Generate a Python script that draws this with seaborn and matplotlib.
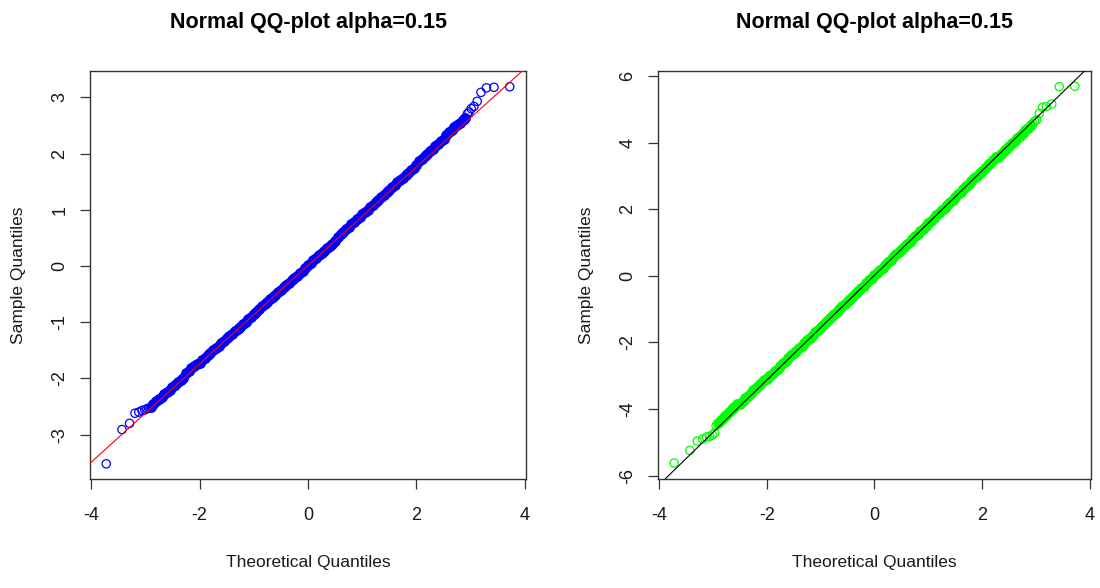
import matplotlib
matplotlib.use("Agg")
import matplotlib.pyplot as plt
import seaborn as sns

# ---------------- data ----------------
title_text = "Normal QQ-plot alpha=0.15"
x_label = "Theoretical Quantiles"
y_label = "Sample Quantiles"

# theoretical quantiles of the sparse tail points
theo_low = [-3.72, -3.43, -3.29, -3.19, -3.12, -3.06, -3.01, -2.97, -2.94]
theo_high = [2.94, 2.97, 3.01, 3.06, 3.12, 3.19, 3.29, 3.43, 3.72]

# theoretical quantiles of the dense middle band (read every 0.05)
theo_mid = [-2.90, -2.85, -2.80, -2.75, -2.70, -2.65, -2.60, -2.55, -2.50, -2.45,
            -2.40, -2.35, -2.30, -2.25, -2.20, -2.15, -2.10, -2.05, -2.00, -1.95,
            -1.90, -1.85, -1.80, -1.75, -1.70, -1.65, -1.60, -1.55, -1.50, -1.45,
            -1.40, -1.35, -1.30, -1.25, -1.20, -1.15, -1.10, -1.05, -1.00, -0.95,
            -0.90, -0.85, -0.80, -0.75, -0.70, -0.65, -0.60, -0.55, -0.50, -0.45,
            -0.40, -0.35, -0.30, -0.25, -0.20, -0.15, -0.10, -0.05, 0.00, 0.05,
            0.10, 0.15, 0.20, 0.25, 0.30, 0.35, 0.40, 0.45, 0.50, 0.55,
            0.60, 0.65, 0.70, 0.75, 0.80, 0.85, 0.90, 0.95, 1.00, 1.05,
            1.10, 1.15, 1.20, 1.25, 1.30, 1.35, 1.40, 1.45, 1.50, 1.55,
            1.60, 1.65, 1.70, 1.75, 1.80, 1.85, 1.90, 1.95, 2.00, 2.05,
            2.10, 2.15, 2.20, 2.25, 2.30, 2.35, 2.40, 2.45, 2.50, 2.55,
            2.60, 2.65, 2.70, 2.75, 2.80, 2.85, 2.90]

# left panel sample quantiles
left_low = [-3.52, -2.91, -2.80, -2.62, -2.60, -2.57, -2.56, -2.54, -2.53]
left_high = [2.71, 2.74, 2.80, 2.84, 2.93, 3.09, 3.17, 3.18, 3.19]
left_mid = [-2.50, -2.46, -2.41, -2.37, -2.33, -2.28, -2.24,
            -2.20, -2.16, -2.12, -2.07, -2.03, -1.99,
            -1.91, -1.87, -1.82, -1.78, -1.74,
            -1.72, -1.68, -1.63, -1.59, -1.55, -1.50, -1.46, -1.42, -1.37, -1.33, -1.28,
            -1.25, -1.21, -1.16, -1.12, -1.08, -1.03, -0.99, -0.94, -0.90, -0.86,
            -0.81, -0.77, -0.72, -0.68, -0.64, -0.59, -0.55, -0.51, -0.46, -0.42,
            -0.38, -0.34, -0.30, -0.25, -0.21, -0.17, -0.12, -0.08, -0.03, 0.01,
            0.05, 0.10, 0.14, 0.19, 0.23, 0.27, 0.32, 0.36, 0.40, 0.45,
            0.52, 0.57, 0.61, 0.65, 0.70, 0.74, 0.79, 0.83, 0.87, 0.92,
            0.96, 1.00, 1.05, 1.09, 1.14, 1.18, 1.22, 1.27, 1.31, 1.35,
            1.40, 1.44, 1.49, 1.53, 1.57, 1.62, 1.66, 1.70, 1.75, 1.79,
            1.87, 1.91, 1.95, 2.00, 2.04, 2.09, 2.13, 2.17, 2.22, 2.26,
            2.33, 2.38, 2.42, 2.47, 2.51, 2.55, 2.60, 2.64]
left_line = (0.01, 0.876)  # intercept, slope of reference line

# right panel sample quantiles
right_low = [-5.62, -5.24, -4.96, -4.90, -4.84, -4.82, -4.78, -4.72, -4.50]
right_high = [4.58, 4.64, 4.68, 4.88, 5.06, 5.08, 5.16, 5.68, 5.69]
right_mid = [-4.41, -4.33, -4.25, -4.17, -4.09, -4.01, -3.93, -3.86,
             -3.84, -3.76, -3.68, -3.60, -3.52, -3.44, -3.37, -3.29, -3.21, -3.13,
             -3.10, -3.02, -2.94, -2.86, -2.79, -2.71, -2.63, -2.55, -2.47, -2.39,
             -2.33, -2.26, -2.18, -2.10, -2.02, -1.94, -1.86, -1.78, -1.70, -1.63,
             -1.55, -1.47, -1.39, -1.31, -1.23, -1.15, -1.08, -1.00, -0.92, -0.84,
             -0.77, -0.69, -0.61, -0.53, -0.46, -0.38, -0.30, -0.22, -0.14, -0.06,
             0.02, 0.10, 0.17, 0.25, 0.33, 0.41, 0.49, 0.57, 0.65, 0.72,
             0.79, 0.87, 0.95, 1.03, 1.11, 1.19, 1.26, 1.34, 1.42, 1.50,
             1.58, 1.66, 1.74, 1.82, 1.89, 1.97, 2.05, 2.13, 2.21, 2.29,
             2.38, 2.45, 2.53, 2.61, 2.69, 2.77, 2.85, 2.93, 3.01, 3.08,
             3.16, 3.24, 3.32, 3.40, 3.48, 3.56,
             3.58, 3.66, 3.74, 3.82, 3.90, 3.98, 4.06, 4.13, 4.21, 4.29,
             4.37, 4.45, 4.53]
right_line = (0.016, 1.573)

x_ticks = [-4, -2, 0, 2, 4]
left_yticks = [-3, -2, -1, 0, 1, 2, 3]
right_yticks = [-6, -4, -2, 0, 2, 4, 6]

# ---------------- styling ----------------
sns.set_theme(style="white")
plt.rcParams['font.family'] = ['Liberation Sans', 'DejaVu Sans']

TEXT = "#1a1a1a"
fig = plt.figure(figsize=(11, 5.88), dpi=100)
W, H = 1100, 588
ax1 = fig.add_axes([90 / W, 1 - 479 / H, 436 / W, 408 / H])
ax2 = fig.add_axes([658 / W, 1 - 479 / H, 433 / W, 408 / H])


def draw(ax, mid_y, low_y, high_y, color, line, line_color, ylim, yticks):
    sns.scatterplot(x=theo_mid, y=mid_y, ax=ax, s=46, marker='o',
                    facecolor=color, edgecolor=color, linewidth=1.0,
                    zorder=2, legend=False)
    sns.scatterplot(x=theo_low + theo_high, y=low_y + high_y, ax=ax, s=36,
                    marker='o', facecolor='none', edgecolor=color,
                    linewidth=0.9, zorder=2, legend=False)
    ax.axline((0, line[0]), slope=line[1], color=line_color, lw=0.8, zorder=3)

    ax.set_xlim(-4.02, 4.02)
    ax.set_ylim(*ylim)
    ax.set_xticks(x_ticks)
    ax.set_xticklabels([str(t) for t in x_ticks])
    ax.set_yticks(yticks)
    ax.set_yticklabels([str(t) for t in yticks])
    ax.tick_params(axis='both', which='major', direction='out', length=7.2,
                   width=0.9, color='#333333', labelcolor=TEXT,
                   labelsize=13, bottom=True, left=True)
    ax.tick_params(axis='x', pad=13)
    ax.tick_params(axis='y', pad=8.5, labelrotation=90)
    for lab in ax.get_yticklabels():
        lab.set_verticalalignment('center')
    for sp in ax.spines.values():
        sp.set_color('#333333')
        sp.set_linewidth(1.0)
        sp.set_visible(True)
    ax.set_title(title_text, fontsize=15.5, fontweight='bold', color='black', pad=30.7)
    ax.set_xlabel(x_label, fontsize=12.5, color=TEXT, labelpad=22.6)
    ax.set_ylabel(y_label, fontsize=12.5, color=TEXT, labelpad=18)
    ax.set_facecolor('white')


draw(ax1, left_mid, left_low, left_high, '#0000FF', left_line, '#FF0000',
     (-3.79, 3.47), left_yticks)
draw(ax2, right_mid, right_low, right_high, '#00FF00', right_line, '#000000',
     (-6.1, 6.15), right_yticks)

fig.patch.set_facecolor('white')
fig.savefig("out.png", dpi=100, facecolor='white')
